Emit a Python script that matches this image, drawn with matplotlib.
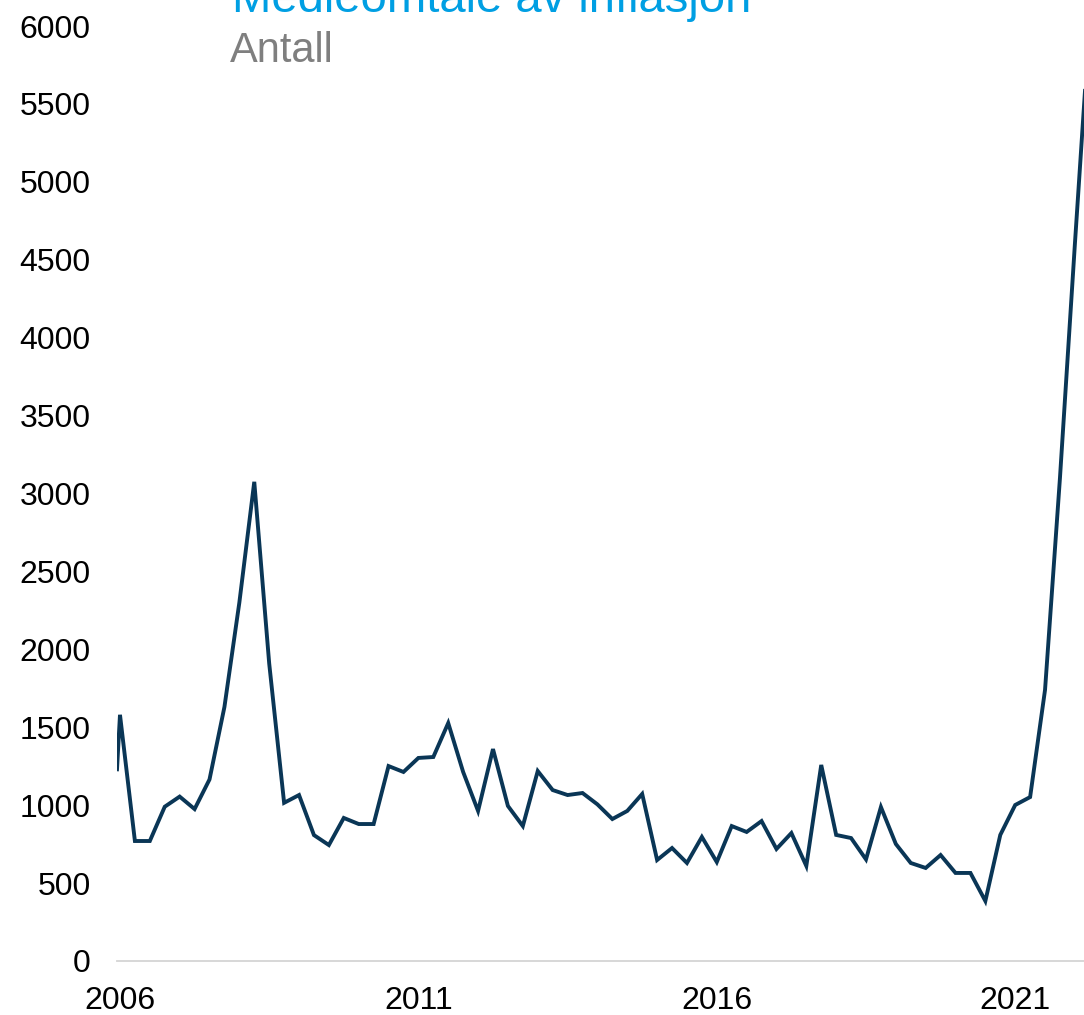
import matplotlib
matplotlib.use("Agg")
import matplotlib.pyplot as plt
import numpy as np
import pandas as pd

plt.rcParams['font.family'] = ['Liberation Sans', 'DejaVu Sans']

title = "Medieomtale av inflasjon"
unit_label = "Antall"

# first observation partly visible at the left edge (decimal year, count)
first_x = 2005.95
first_value = 1230

# quarterly observations, 2006Q1 onwards
quarters = pd.period_range("2006Q1", "2022Q2", freq="Q")
values = [
    1580, 770, 770, 990, 1055, 975, 1165, 1630, 2300, 3075,
    1910, 1015, 1065, 808, 744, 918, 879, 879, 1251, 1213,
    1303, 1309, 1527, 1213, 963, 1360, 995, 866, 1219, 1097,
    1065, 1078, 1005, 911, 963, 1072, 648, 725, 629, 796,
    635, 866, 828, 898, 719, 821, 610, 1258, 809, 789,
    652, 988, 751, 629, 597, 680, 565, 565, 385, 809,
    1001, 1052, 1740, 3100, 4600, 6050,
]

x_ticks = [2006, 2011, 2016, 2021]
x_tick_labels = ["2006", "2011", "2016", "2021"]
y_ticks = list(range(0, 6001, 500))

qx = np.array([q.year + (q.quarter - 1) / 4 for q in quarters])
x = np.concatenate([[first_x], qx])
y = np.concatenate([[first_value], values])

fig = plt.figure(figsize=(10.84, 10.15), dpi=100)
ax = fig.add_axes([117 / 1084, 1 - 961 / 1015, 1 - 117 / 1084, (961 - 26) / 1015])

ax.plot(x, y, color="#0a3656", lw=2.8, solid_joinstyle="miter", clip_on=True)

ax.set_xlim(2005.95, 2006 + (1084 - 120) / 59.68)
ax.set_ylim(0, 6000)
ax.set_xticks(x_ticks)
ax.set_xticklabels(x_tick_labels)
ax.set_yticks(y_ticks)
ax.set_yticklabels([str(v) for v in y_ticks])
ax.tick_params(axis="both", length=0, labelsize=23, colors="black")
ax.tick_params(axis="y", pad=19)
ax.tick_params(axis="x", pad=18)

for s in ["left", "right", "top"]:
    ax.spines[s].set_visible(False)
ax.spines["bottom"].set_color("#d4d4d4")
ax.spines["bottom"].set_linewidth(1.3)

fig.text(232 / 1084, 1 - 12 / 1015, title, fontsize=34, color="#009fe3",
         ha="left", va="baseline")
fig.text(230 / 1084, 1 - 62 / 1015, unit_label, fontsize=30, color="#7f7f7f",
         ha="left", va="baseline")

fig.savefig("out.png", dpi=100)
